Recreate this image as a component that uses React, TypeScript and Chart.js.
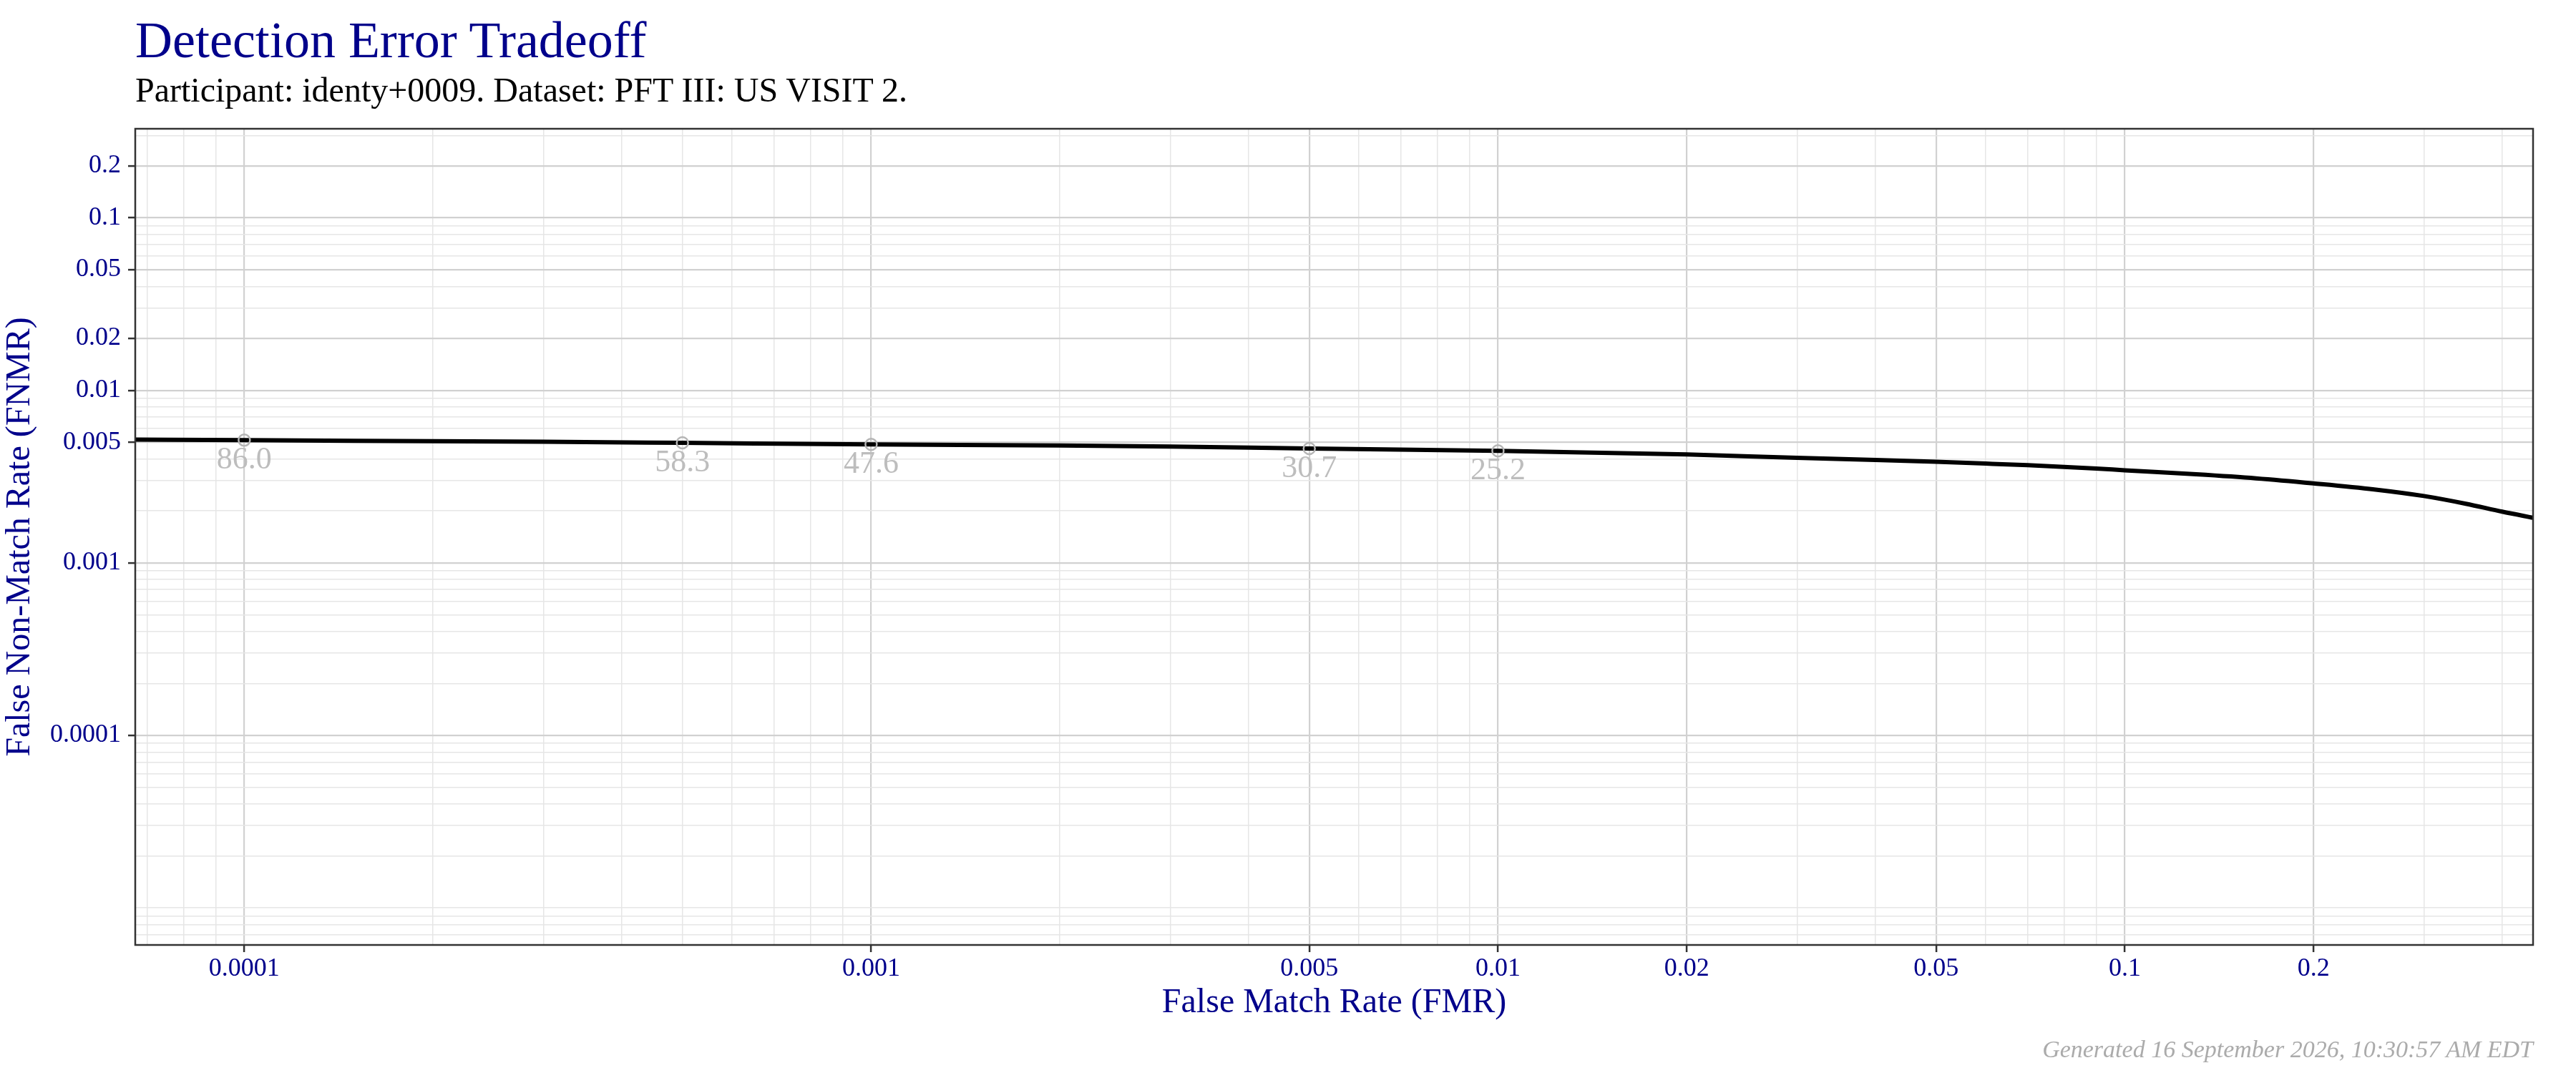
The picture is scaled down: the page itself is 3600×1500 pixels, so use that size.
import React, { useEffect, useRef } from 'react';
import Chart from 'chart.js/auto';

// DET curve (FMR on x, FNMR on y)
const fmrValues = [
  6.5e-5, 1e-4, 2e-4, 3e-4, 5e-4, 1e-3, 2e-3, 3e-3, 5e-3, 1e-2, 2e-2, 3e-2, 4e-2, 5e-2,
  6e-2, 7e-2, 8e-2, 9e-2, 0.1, 0.13, 0.162, 0.2, 0.25, 0.3, 0.35, 0.4, 0.45,
];
const fnmrValues = [
  0.00518, 0.00514, 0.00507, 0.00503, 0.00496, 0.00486, 0.00479, 0.00472, 0.0046, 0.00446,
  0.00425, 0.00406, 0.00395, 0.00385, 0.00376, 0.00368, 0.0036, 0.00352, 0.00344, 0.00326,
  0.00309, 0.00289, 0.002665, 0.00244, 0.0022, 0.00198, 0.00182,
];

// operating points with their threshold labels
const opFmr = [1e-4, 5e-4, 1e-3, 5e-3, 1e-2];
const opFnmr = [0.00514, 0.00496, 0.00486, 0.0046, 0.00446];
const opLabels = ['86.0', '58.3', '47.6', '30.7', '25.2'];

const xTickValues = [0.0001, 0.001, 0.005, 0.01, 0.02, 0.05, 0.1, 0.2];
const xTickLabels = ['0.0001', '0.001', '0.005', '0.01', '0.02', '0.05', '0.1', '0.2'];
const yTickValues = [0.0001, 0.001, 0.005, 0.01, 0.02, 0.05, 0.1, 0.2];
const yTickLabels = ['0.0001', '0.001', '0.005', '0.01', '0.02', '0.05', '0.1', '0.2'];

const X_MIN = 6.7e-5;
const X_MAX = 0.448;
const Y_MIN = 6.1e-6;
const Y_MAX = 0.328;

const FONT = 'Liberation Serif';
const BLUE = '#00008B';
const MAJOR_GRID = '#d1d1d1';
const MINOR_GRID = '#e6e6e6';

const sameValue = (a: number, b: number) => Math.abs(a - b) / b < 1e-6;

// gridlines at every k*10^n, flagged major where a labelled break sits
const logTicks = (min: number, max: number, majors: number[]) => {
  const out: { value: number; major: boolean }[] = [];
  for (let e = Math.floor(Math.log10(min)); e <= Math.ceil(Math.log10(max)); e++) {
    for (let k = 1; k <= 9; k++) {
      const v = Number((k * Math.pow(10, e)).toPrecision(6));
      if (v >= min && v <= max) out.push({ value: v, major: majors.some((m) => sameValue(v, m)) });
    }
  }
  return out;
};

const labelFor = (values: number[], labels: string[]) => (v: number | string) => {
  const i = values.findIndex((m) => sameValue(Number(v), m));
  return i >= 0 ? labels[i] : '';
};

const gridOptions = {
  color: (c: any) => (c.tick && c.tick.major ? MAJOR_GRID : MINOR_GRID),
  lineWidth: (c: any) => (c.tick && c.tick.major ? 2.2 : 1.5),
  tickColor: (c: any) => (c.tick && c.tick.major ? '#333333' : 'rgba(0,0,0,0)'),
  tickWidth: 2.5,
  tickLength: 10,
  drawTicks: true,
};

const panelBorder = {
  id: 'panelBorder',
  afterDraw(chart: any) {
    const { ctx, chartArea } = chart;
    ctx.save();
    ctx.strokeStyle = '#333333';
    ctx.lineWidth = 2.5;
    ctx.strokeRect(chartArea.left, chartArea.top, chartArea.right - chartArea.left, chartArea.bottom - chartArea.top);
    ctx.restore();
  },
};

const pointLabels = {
  id: 'pointLabels',
  afterDatasetsDraw(chart: any) {
    const { ctx } = chart;
    const meta = chart.getDatasetMeta(0);
    ctx.save();
    ctx.font = `44px "${FONT}"`;
    ctx.fillStyle = '#bdbdbd';
    ctx.textAlign = 'center';
    ctx.textBaseline = 'alphabetic';
    meta.data.forEach((pt: any, i: number) => {
      ctx.fillText(opLabels[i], pt.x, pt.y + 40);
    });
    ctx.restore();
  },
};

const DetChart: React.FC = () => {
  const canvasRef = useRef<HTMLCanvasElement>(null);
  const chartRef = useRef<Chart | null>(null);

  useEffect(() => {
    if (!canvasRef.current) return;
    if (chartRef.current) chartRef.current.destroy();

    chartRef.current = new Chart(canvasRef.current, {
      type: 'scatter',
      data: {
        datasets: [
          {
            label: 'thresholds',
            data: opFmr.map((x, i) => ({ x, y: opFnmr[i] })),
            showLine: false,
            pointRadius: 8,
            pointBorderWidth: 2.5,
            pointBorderColor: '#b5b5b5',
            pointBackgroundColor: 'rgba(0,0,0,0)',
            order: 0,
          },
          {
            label: 'DET',
            data: fmrValues.map((x, i) => ({ x, y: fnmrValues[i] })),
            showLine: true,
            borderColor: '#000000',
            borderWidth: 6,
            pointRadius: 0,
            cubicInterpolationMode: 'monotone',
            clip: 0,
            order: 1,
          },
        ],
      },
      options: {
        animation: false,
        responsive: true,
        maintainAspectRatio: false,
        layout: { padding: { top: 180, right: 60, bottom: 0, left: 0 } },
        plugins: {
          legend: { display: false },
          tooltip: { enabled: false },
        },
        scales: {
          x: {
            type: 'logarithmic',
            min: X_MIN,
            max: X_MAX,
            bounds: 'data',
            afterBuildTicks: (s: any) => {
              s.ticks = logTicks(X_MIN, X_MAX, xTickValues);
            },
            afterFit: (s: any) => {
              s.height = 179;
            },
            grid: gridOptions,
            border: { display: false },
            ticks: {
              autoSkip: false,
              maxRotation: 0,
              minRotation: 0,
              padding: 2,
              color: BLUE,
              font: { family: FONT, size: 36, lineHeight: 1.2 },
              callback: labelFor(xTickValues, xTickLabels),
            },
            title: {
              display: true,
              text: 'False Match Rate (FMR)',
              color: BLUE,
              font: { family: FONT, size: 48, lineHeight: 1.2 },
              padding: { top: 0, bottom: 69 },
            },
          },
          y: {
            type: 'logarithmic',
            min: Y_MIN,
            max: Y_MAX,
            bounds: 'data',
            afterBuildTicks: (s: any) => {
              s.ticks = logTicks(Y_MIN, Y_MAX, yTickValues);
            },
            afterFit: (s: any) => {
              s.width = 189;
            },
            grid: gridOptions,
            border: { display: false },
            ticks: {
              autoSkip: false,
              padding: 10,
              color: BLUE,
              font: { family: FONT, size: 36, lineHeight: 1.2 },
              callback: labelFor(yTickValues, yTickLabels),
            },
            title: {
              display: true,
              text: 'False Non-Match Rate (FNMR)',
              color: BLUE,
              font: { family: FONT, size: 48, lineHeight: 1.2 },
              padding: { top: 0, bottom: 0 },
            },
          },
        },
      } as any,
      plugins: [panelBorder, pointLabels],
    });

    return () => {
      if (chartRef.current) {
        chartRef.current.destroy();
        chartRef.current = null;
      }
    };
  }, []);

  return (
    <div style={{ position: 'absolute', left: 0, top: 0, width: 3600, height: 1500, background: '#ffffff', fontFamily: FONT }}>
      <div style={{ position: 'absolute', left: 0, top: 0, width: 3600, height: 1500 }}>
        <canvas ref={canvasRef}></canvas>
      </div>
      <div style={{ position: 'absolute', left: 189, top: 20, fontSize: 72, lineHeight: 1, color: BLUE, whiteSpace: 'nowrap' }}>
        Detection Error Tradeoff
      </div>
      <div style={{ position: 'absolute', left: 189, top: 102, fontSize: 48, lineHeight: 1, color: '#000000', whiteSpace: 'nowrap' }}>
        Participant: identy+0009. Dataset: PFT III: US VISIT 2.
      </div>
      <div style={{ position: 'absolute', right: 60, top: 1450, fontSize: 34, lineHeight: 1, fontStyle: 'italic', color: '#ababab', whiteSpace: 'nowrap' }}>
        Generated 16 September 2026, 10:30:57 AM EDT
      </div>
    </div>
  );
};

export default function App() {
  return <DetChart />;
}
